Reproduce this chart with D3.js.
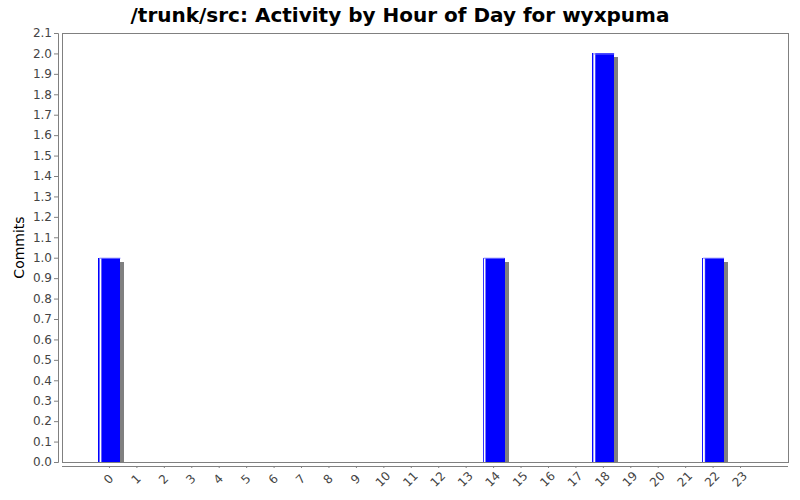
<!DOCTYPE html>
<html><head><meta charset="utf-8">
<script src="https://cdn.jsdelivr.net/npm/d3@7"></script>
<style>body{margin:0;background:#fff}svg{display:block}text{font-family:"DejaVu Sans",sans-serif}</style>
</head><body>
<script>
const hours = ["0","1","2","3","4","5","6","7","8","9","10","11","12","13","14","15","16","17","18","19","20","21","22","23"];
const commits = [1,0,0,0,0,0,0,0,0,0,0,0,0,0,1,0,0,0,2,0,0,0,1,0];
const yTicks = d3.range(0, 22).map(i => i / 10);

const W = 800, H = 500;
const L = 62, R = 788, T = 33, B = 462;
const svg = d3.select("body").append("svg").attr("width", W).attr("height", H);

const defs = svg.append("defs");
const g = defs.append("linearGradient").attr("id", "barg").attr("x1", "0").attr("x2", "1").attr("y1", "0").attr("y2", "0");
[[0,"#0000ff"],[0.04,"#3030ff"],[0.06,"#ffffff"],[0.1,"#ffffff"],[0.13,"#8080ff"],[0.16,"#0000ff"],[1,"#0000ff"]]
  .forEach(([o,c]) => g.append("stop").attr("offset", o).attr("stop-color", c));

const x = d3.scaleBand().domain(hours).range([L, R]).paddingInner(0.2).paddingOuter(1.33);
const y = d3.scaleLinear().domain([0, 2.1]).range([B, T]);

svg.append("text").attr("x", 400).attr("y", 22).attr("text-anchor", "middle")
  .attr("font-size", 20).attr("font-weight", "bold").attr("fill", "#000")
  .text("/trunk/src: Activity by Hour of Day for wyxpuma");

// plot border
svg.append("rect").attr("x", L).attr("y", T).attr("width", R - L).attr("height", B - T)
  .attr("fill", "#fff").attr("stroke", "#808080").attr("stroke-width", 1).attr("shape-rendering", "crispEdges");

// bars
const bars = svg.append("g");
commits.forEach((v, i) => {
  if (v <= 0) return;
  const bx = x(hours[i]), bw = x.bandwidth(), by = y(v);
  bars.append("rect").attr("x", bx + 4).attr("y", by + 4).attr("width", bw).attr("height", B - by - 4)
    .attr("fill", "#808080").attr("shape-rendering", "crispEdges");
  bars.append("rect").attr("x", bx).attr("y", by).attr("width", bw).attr("height", B - by)
    .attr("fill", "url(#barg)").attr("shape-rendering", "crispEdges");
  bars.append("line").attr("x1", bx + 1).attr("x2", bx + bw).attr("y1", by + 0.5).attr("y2", by + 0.5)
    .attr("stroke", "#8080ff").attr("stroke-width", 1);
});

// y axis
const ya = svg.append("g").attr("transform", `translate(${L - 4},0)`)
  .call(d3.axisLeft(y).tickValues(yTicks).tickFormat(d3.format(".1f")).tickSize(4).tickPadding(2));
ya.select(".domain").attr("stroke", "#808080");
ya.selectAll(".tick line").attr("stroke", "#808080");
ya.selectAll(".tick text").attr("font-size", 12).attr("fill", "#444").attr("font-family", "DejaVu Sans, sans-serif");

// x axis
const xa = svg.append("g").attr("transform", `translate(0,${B + 4})`)
  .call(d3.axisBottom(x).tickSize(2).tickSizeOuter(0).tickFormat(d => d));
xa.select(".domain").attr("stroke", "#808080").attr("d", `M${L},0.5H${R}`);
xa.selectAll(".tick line").attr("stroke", "#808080");
xa.selectAll(".tick text").attr("font-size", 12).attr("fill", "#444").attr("font-family", "DejaVu Sans, sans-serif")
  .attr("text-anchor", "middle").attr("dy", null).attr("y", 0)
  .attr("transform", "translate(2,16) rotate(-45)");

svg.append("text").attr("transform", `translate(24,${(T + B) / 2}) rotate(-90)`)
  .attr("text-anchor", "middle").attr("font-size", 14).attr("fill", "#000").text("Commits");
</script>
</body></html>
